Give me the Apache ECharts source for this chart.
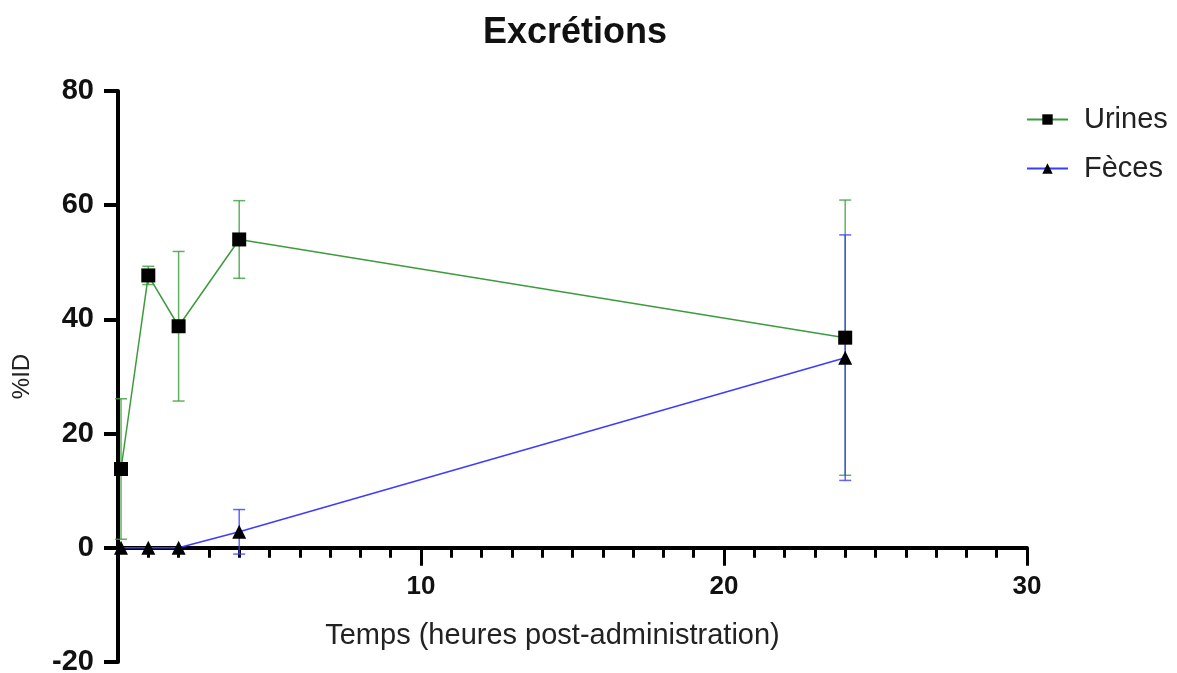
<!DOCTYPE html>
<html>
<head>
<meta charset="utf-8">
<script src="https://cdn.jsdelivr.net/npm/echarts@6/dist/echarts.min.js"></script>
<style>
html,body{margin:0;padding:0;background:#fff;}
#chart{width:1177px;height:673px;}
</style>
</head>
<body>
<div id="chart"></div>
<script>
// ---- data ----
var times = [0.1, 1, 2, 4, 24];
var urines = [13.8, 47.7, 38.8, 54.0, 36.8];
var urinesErr = [12.3, 1.6, 13.1, 6.8, 24.1];
var feces = [0, 0, 0, 2.8, 33.3];
var fecesErr = [0, 0, 0, 3.9, 21.5];
var xTicks = [10, 20, 30];
var yTicks = [-20, 0, 20, 40, 60, 80];

var GREEN = '#3c9c3c';
var BLUE = '#3c3cff';

function pairs(xs, ys){ return xs.map(function(x,i){ return [x, ys[i]]; }); }
function errData(xs, ys, es){ return xs.map(function(x,i){ return [x, ys[i]-es[i], ys[i]+es[i]]; }); }

function errRender(color){
  return function(params, api){
    var x = api.value(0), lo = api.value(1), hi = api.value(2);
    if (hi - lo < 0.01) return null;
    var pLo = api.coord([x, lo]), pHi = api.coord([x, hi]);
    var w = 6;
    var st = {stroke: color, lineWidth: 1.5, opacity: 0.8};
    return {type:'group', children:[
      {type:'line', shape:{x1:pHi[0], y1:pHi[1], x2:pLo[0], y2:pLo[1]}, style: st},
      {type:'line', shape:{x1:pHi[0]-w, y1:pHi[1], x2:pHi[0]+w, y2:pHi[1]}, style: st},
      {type:'line', shape:{x1:pLo[0]-w, y1:pLo[1], x2:pLo[0]+w, y2:pLo[1]}, style: st}
    ]};
  };
}

var chart = echarts.init(document.getElementById('chart'));
var FONT = '"Liberation Sans", Arial, sans-serif';
chart.setOption({
  animation: false,
  backgroundColor: '#fff',
  title: {
    text: 'Excrétions',
    left: 478, top: 10,
    textStyle: {fontFamily: FONT, fontSize: 36, fontWeight: 'bold', color: '#111'}
  },
  legend: {
    orient: 'vertical',
    left: 1021, top: 100,
    itemWidth: 41, itemHeight: 13, itemGap: 20,
    data: ['Urines', 'Fèces'],
    textStyle: {fontFamily: FONT, fontSize: 29, color: '#222', padding: [0, 0, 0, 11]}
  },
  grid: {left: 118, right: 150, top: 91, bottom: 11, containLabel: false, outerBoundsMode: 'none'},
  xAxis: {
    type: 'value', min: 0, max: 30, interval: 10,
    name: 'Temps (heures post-administration)',
    nameLocation: 'middle', nameGap: -41,
    nameTextStyle: {fontFamily: FONT, fontSize: 29, color: '#222', padding: [0, 40, 0, 0]},
    axisLine: {onZero: true, lineStyle: {color: '#000', width: 4}},
    axisTick: {length: 18, lineStyle: {color: '#000', width: 3}},
    minorTick: {show: true, splitNumber: 10, length: 10, lineStyle: {color: '#000', width: 3}},
    axisLabel: {
      margin: -88, fontFamily: FONT, fontSize: 26, fontWeight: 'bold', color: '#111',
      formatter: function(v){ return xTicks.indexOf(v) >= 0 ? String(v) : ''; }
    },
    splitLine: {show: false}
  },
  yAxis: {
    type: 'value', min: -20, max: 80, interval: 20,
    name: '%ID',
    nameLocation: 'middle', nameGap: 84, nameRotate: 90,
    nameTextStyle: {fontFamily: FONT, fontSize: 24, color: '#222'},
    axisLine: {lineStyle: {color: '#000', width: 4}},
    axisTick: {length: 14, lineStyle: {color: '#000', width: 4}},
    axisLabel: {
      margin: 24, fontFamily: FONT, fontSize: 29, fontWeight: 'bold', color: '#111',
      formatter: function(v){ return yTicks.indexOf(v) >= 0 ? String(v) : ''; }
    },
    splitLine: {show: false}
  },
  series: [
    {
      type: 'custom', name: 'errU', renderItem: errRender(GREEN),
      data: errData(times, urines, urinesErr), z: 2, clip: false, silent: true
    },
    {
      type: 'custom', name: 'errF', renderItem: errRender(BLUE),
      data: errData(times, feces, fecesErr), z: 2, clip: false, silent: true
    },
    {
      type: 'line', name: 'Urines', data: pairs(times, urines),
      symbol: 'rect', symbolSize: 14, clip: false, z: 4,
      lineStyle: {color: GREEN, width: 1.5},
      itemStyle: {color: '#000'}
    },
    {
      type: 'line', name: 'Fèces', data: pairs(times, feces),
      symbol: 'triangle', symbolSize: 14, clip: false, z: 4,
      lineStyle: {color: BLUE, width: 1.5},
      itemStyle: {color: '#000'}
    }
  ]
});
</script>
</body>
</html>
